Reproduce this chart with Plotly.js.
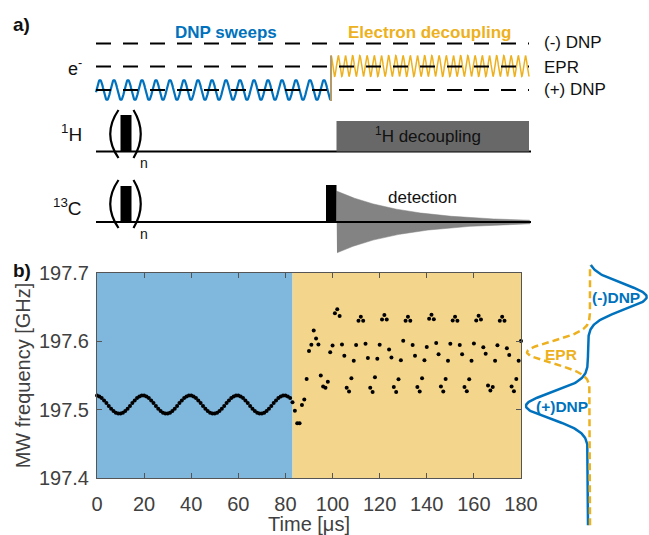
<!DOCTYPE html>
<html><head><meta charset="utf-8">
<script src="https://cdn.plot.ly/plotly-3.0.1.min.js"></script>
<style>html,body{margin:0;padding:0;background:#fff}#chart{width:649px;height:535px}</style>
</head><body><div id="chart"></div>
<script>
// ===== Panel b data =====
// MW frequency (GHz) sampled every 1 µs
const sweepStartTime = 0;        // µs, first sample of DNP sweep
const sweepFreq = [
197.5206,197.5194,197.5169,197.5135,197.5096,197.5054,197.5015,197.4981,197.4956,197.4944,
197.4944,197.4956,197.4981,197.5015,197.5054,197.5096,197.5135,197.5169,197.5194,197.5206,
197.5206,197.5194,197.5169,197.5135,197.5096,197.5054,197.5015,197.4981,197.4956,197.4944,
197.4944,197.4956,197.4981,197.5015,197.5054,197.5096,197.5135,197.5169,197.5194,197.5206,
197.5206,197.5194,197.5169,197.5135,197.5096,197.5054,197.5015,197.4981,197.4956,197.4944,
197.4944,197.4956,197.4981,197.5015,197.5054,197.5096,197.5135,197.5169,197.5194,197.5206,
197.5206,197.5194,197.5169,197.5135,197.5096,197.5054,197.5015,197.4981,197.4956,197.4944,
197.4944,197.4956,197.4981,197.5015,197.5054,197.5096,197.5135,197.5169,197.5194,197.5206,
197.5206,197.5194,197.5169
];
const decouplingStartTime = 83;  // µs, first sample of electron decoupling
const decouplingFreq = [
197.511,197.4985,197.480,197.480,197.507,197.515,197.545,197.586,197.595,197.616,
197.604,197.5955,197.550,197.534,197.532,197.541,197.584,197.594,197.641,197.647,
197.637,197.5955,197.579,197.532,197.5265,197.546,197.5716,197.5946,197.630,197.636,
197.630,197.5966,197.5755,197.532,197.526,197.5475,197.5745,197.595,197.632,197.6387,
197.632,197.588,197.5765,197.533,197.526,197.5446,197.5725,197.601,197.630,197.636,
197.630,197.5946,197.579,197.5333,197.5265,197.546,197.5725,197.5917,197.633,197.639,
197.6325,197.5975,197.581,197.534,197.5265,197.545,197.5716,197.5966,197.6305,197.636,
197.630,197.5946,197.581,197.533,197.527,197.5446,197.5716,197.597,197.6305,197.6375,
197.632,197.5912,197.582,197.5353,197.528,197.533,197.5716,197.5941,197.630,197.636,
197.630,197.5897,197.580,197.534,197.527,197.545,197.5716,197.6005
];
const sweepEndTime = 83;          // boundary between phases (µs)
const timeEnd = 180;
const timeTicks = [0,20,40,60,80,100,120,140,160,180];
const freqTicks = [197.4,197.5,197.6,197.7];
const freqTickText = ['197.4','197.5','197.6','197.7'];

// Schematic spectral lines (side panel)
const lineLabels  = ['(-)DNP','EPR','(+)DNP'];
const lineCenters = [197.665, 197.584, 197.5055];   // GHz
const lineSigmas  = [0.019, 0.016, 0.019];          // GHz

// ===== styles =====
const BLUE = '#0072BD', ORANGE = '#EDB120';
const BLUE_BG = '#80B7DD', ORANGE_BG = '#F3D68C';
const FONT = 'Arial, "Liberation Sans", sans-serif';

// ===== figure geometry (pixels) =====
const W = 649, H = 535;
const plotL = 97, plotR = 521, plotT = 273, plotB = 478;
const pxPerGHz = (plotB - plotT) / 0.3;
const sideTop = 262, sideBot = 528;

// ----- panel b traces -----
const traces = [];
traces.push({type:'scatter', mode:'markers', x0:sweepStartTime, dx:1, y:sweepFreq,
  marker:{color:'#000', size:4}, cliponaxis:false, hoverinfo:'skip', xaxis:'x', yaxis:'y'});
traces.push({type:'scatter', mode:'markers', x0:decouplingStartTime, dx:1, y:decouplingFreq,
  marker:{color:'#000', size:4}, cliponaxis:false, hoverinfo:'skip', xaxis:'x', yaxis:'y'});

// ----- side panel: schematic line shapes (x3 in pixel offsets from baseline) -----
const gauss = (f, c, s) => Math.exp(-0.5 * ((f - c) / s) ** 2);
const y3lo = 197.4 - (sideBot - plotB) / pxPerGHz;
const y3hi = 197.7 + (plotT - sideTop) / pxPerGHz;
const fs = [];
for (let f = y3lo + 0.004; f <= y3hi - 0.004; f += 0.001) fs.push(f);
const blueX = fs.map(f => 58.7 * gauss(f, lineCenters[0], lineSigmas[0]) - 62 * gauss(f, lineCenters[2], lineSigmas[2]));
const orX = fs.map(f => 2 - 63 * gauss(f, lineCenters[1], lineSigmas[1]));
traces.push({type:'scatter', mode:'lines', x:blueX, y:fs, line:{color:BLUE, width:2.5},
  hoverinfo:'skip', xaxis:'x3', yaxis:'y3'});
traces.push({type:'scatter', mode:'lines', x:orX, y:fs, line:{color:ORANGE, width:2.5, dash:'7px,4px'},
  hoverinfo:'skip', xaxis:'x3', yaxis:'y3'});

// ----- panel a: schematic pulse sequence (x2/y2 = pixel space) -----
const bw = {x:[], y:[]};
for (let x = 96; x <= 331.001; x += 0.5) { bw.x.push(x); bw.y.push(90 - 10 * Math.cos(2 * Math.PI * (x - 100) / 14)); }
traces.push({type:'scatter', mode:'lines', x:bw.x, y:bw.y, line:{color:BLUE, width:2.2}, hoverinfo:'skip', xaxis:'x2', yaxis:'y2'});
const ow = {x:[], y:[]};
for (let x = 331; x <= 529.001; x += 0.25) { ow.x.push(x); ow.y.push(66 - 10.5 * Math.cos(2 * Math.PI * (x - 331) / 7.2)); }
traces.push({type:'scatter', mode:'lines', x:ow.x, y:ow.y, line:{color:ORANGE, width:1.5}, hoverinfo:'skip', xaxis:'x2', yaxis:'y2'});
// FID envelope
const fidX = [], fidY = [];
for (let x = 336.5; x <= 530; x += 1) { fidX.push(x); fidY.push(222 - 31 * Math.exp(-(x - 336.5) / 68)); }
for (let x = 530; x >= 336.5; x -= 1) { fidX.push(x); fidY.push(222 + 31 * Math.exp(-(x - 336.5) / 68)); }
traces.push({type:'scatter', mode:'lines', x:fidX, y:fidY, fill:'toself', fillcolor:'#838383',
  line:{color:'#838383', width:0.5}, hoverinfo:'skip', xaxis:'x2', yaxis:'y2'});

const L = (x0, y0, x1, y1, w, c, dash) => ({type:'line', xref:'x2', yref:'y2', x0, y0, x1, y1,
  line:{color:c || '#000', width:w, dash:dash || 'solid'}});
const R = (x0, y0, x1, y1, c) => ({type:'rect', xref:'x2', yref:'y2', x0, y0, x1, y1,
  fillcolor:c, line:{width:0}});
const P = (d) => ({type:'path', xref:'x2', yref:'y2', path:d, line:{color:'#000', width:2.2}});

const shapes = [
  // panel b backgrounds
  {type:'rect', xref:'x', yref:'y domain', x0:0, x1:sweepEndTime, y0:0, y1:1, fillcolor:BLUE_BG, line:{width:0}, layer:'below'},
  {type:'rect', xref:'x', yref:'y domain', x0:sweepEndTime, x1:timeEnd, y0:0, y1:1, fillcolor:ORANGE_BG, line:{width:0}, layer:'below'},
  // electron levels
  L(96, 43.5, 529, 43.5, 2, '#000', '15px,12px'),
  L(96, 66.5, 529, 66.5, 2, '#000', '15px,12px'),
  L(96, 90, 529, 90, 2, '#000', '15px,12px'),
  L(331, 101, 331, 55.5, 2, '#b39a6a'),
  // 1H channel
  L(96, 151.5, 531, 151.5, 2),
  R(120.5, 115, 131.5, 151.5, '#000'),
  R(336.5, 121, 529, 151.5, '#686868'),
  P('M 118.5 110 Q 102 134 118.5 158'),
  P('M 133.5 110 Q 148 134 133.5 158'),
  // 13C channel
  L(96, 222, 531, 222, 2),
  R(120.5, 186, 131.5, 222, '#000'),
  R(326, 185, 336.5, 222, '#000'),
  P('M 118.5 180 Q 102 204 118.5 228'),
  P('M 133.5 180 Q 148 204 133.5 228'),
];

const A = (x, y, text, opts) => Object.assign({xref:'x2', yref:'y2', x, y, text, showarrow:false,
  xanchor:'center', yanchor:'middle', font:{family:FONT, size:17, color:'#111'}}, opts || {});
const annotations = [
  A(11, 24, '<b>a)</b>', {xanchor:'left', font:{family:FONT, size:19, color:'#111'}}),
  A(11, 270, '<b>b)</b>', {xanchor:'left', font:{family:FONT, size:19, color:'#111'}}),
  A(226, 32, '<b>DNP sweeps</b>', {font:{family:FONT, size:17, color:BLUE}}),
  A(429, 32, '<b>Electron decoupling</b>', {font:{family:FONT, size:17, color:ORANGE}}),
  A(542, 42, '(-) DNP', {xanchor:'left'}),
  A(542, 67, 'EPR', {xanchor:'left'}),
  A(542, 89, '(+) DNP', {xanchor:'left'}),
  A(84, 67, 'e<sup>-</sup>', {xanchor:'right', font:{family:FONT, size:18, color:'#111'}}),
  A(84, 133, '<sup>1</sup>H', {xanchor:'right', font:{family:FONT, size:19, color:'#111'}}),
  A(84, 207, '<sup>13</sup>C', {xanchor:'right', font:{family:FONT, size:19, color:'#111'}}),
  A(144, 163, 'n', {font:{family:FONT, size:14, color:'#111'}}),
  A(144, 234, 'n', {font:{family:FONT, size:14, color:'#111'}}),
  A(428, 135, '<sup>1</sup>H decoupling', {font:{family:FONT, size:17, color:'#111'}}),
  A(422, 197, 'detection', {font:{family:FONT, size:17, color:'#111'}}),
  A(616, 297, '<b>' + lineLabels[0] + '</b>', {font:{family:FONT, size:15.5, color:BLUE}}),
  A(561, 354, '<b>' + lineLabels[1] + '</b>', {font:{family:FONT, size:15.5, color:ORANGE}}),
  A(562, 406, '<b>' + lineLabels[2] + '</b>', {font:{family:FONT, size:15.5, color:BLUE}}),
];

const axisCommon = {showgrid:false, zeroline:false, showline:true, linecolor:'#555', linewidth:1,
  ticks:'inside', ticklen:5, tickcolor:'#555', mirror:'allticks',
  tickfont:{family:FONT, size:20, color:'#404040'}};
const hidden = {visible:false, showgrid:false, zeroline:false, fixedrange:true};

const layout = {
  width:W, height:H, margin:{l:0, r:0, t:0, b:0}, showlegend:false,
  paper_bgcolor:'#fff', plot_bgcolor:'rgba(0,0,0,0)',
  font:{family:FONT},
  xaxis:Object.assign({}, axisCommon, {domain:[plotL / W, plotR / W], range:[0, timeEnd], tickvals:timeTicks,
    anchor:'y', ticklabelstandoff:8,
    title:{text:'Time [μs]', font:{family:FONT, size:20, color:'#404040'}, standoff:12}}),
  yaxis:Object.assign({}, axisCommon, {domain:[1 - plotB / H, 1 - plotT / H], range:[197.4, 197.7],
    tickvals:freqTicks, ticktext:freqTickText, anchor:'x', ticklabelstandoff:3,
    title:{text:'MW frequency [GHz]', font:{family:FONT, size:20, color:'#404040'}, standoff:2}}),
  xaxis2:Object.assign({}, hidden, {domain:[0, 1], range:[0, W], anchor:'y2'}),
  yaxis2:Object.assign({}, hidden, {domain:[0, 1], range:[H, 0], anchor:'x2'}),
  xaxis3:Object.assign({}, hidden, {domain:[500 / W, 1], range:[500 - 588, W - 588], anchor:'y3'}),
  yaxis3:Object.assign({}, hidden, {domain:[1 - sideBot / H, 1 - sideTop / H], range:[y3lo, y3hi], anchor:'x3'}),
  shapes, annotations
};

Plotly.newPlot('chart', traces, layout, {displayModeBar:false, staticPlot:true});
</script></body></html>
